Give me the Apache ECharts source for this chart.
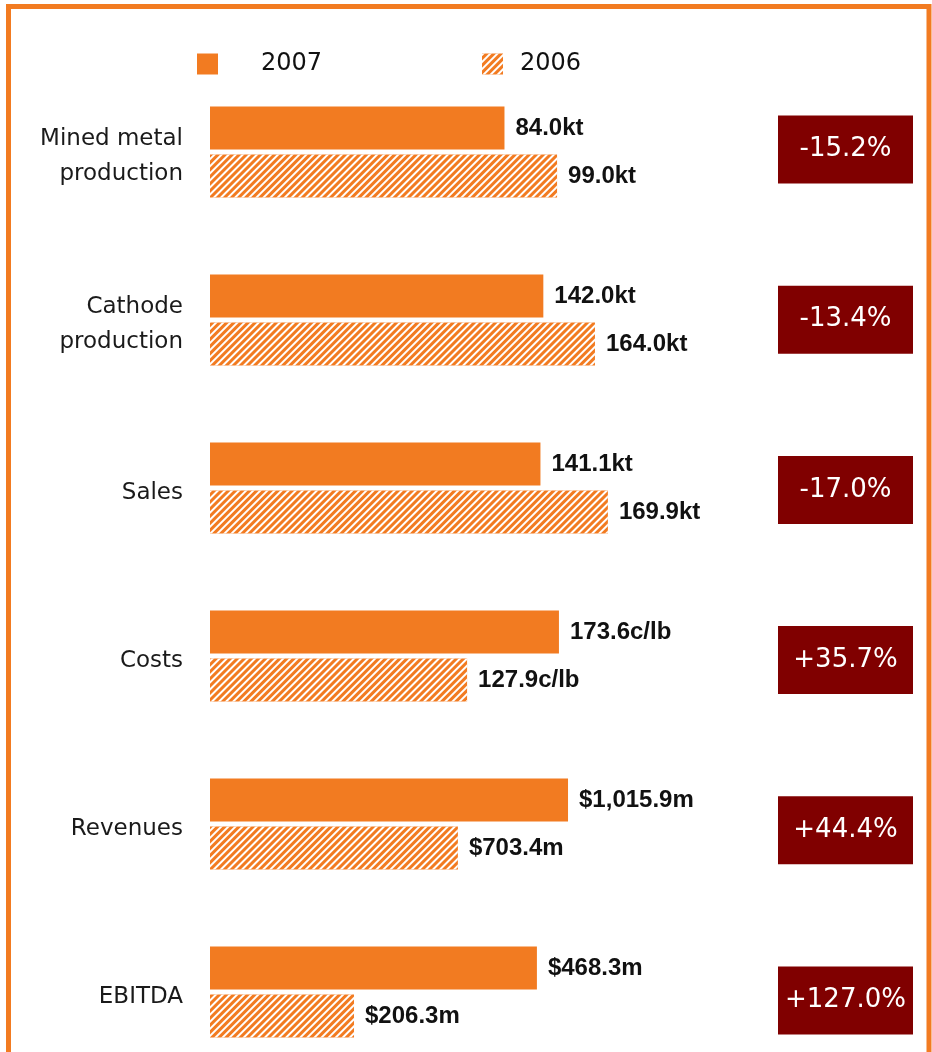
<!DOCTYPE html>
<html><head><meta charset="utf-8">
<script src="https://cdn.jsdelivr.net/npm/echarts@6/dist/echarts.min.js"></script>
<style>html,body{margin:0;padding:0;background:#fff}#c{width:932px;height:1052px}</style>
</head><body><div id="c"></div>
<script>
const categories = ['Mined metal\nproduction', 'Cathode\nproduction', 'Sales', 'Costs', 'Revenues', 'EBITDA'];
const values2007 = [84.0, 142.0, 141.1, 173.6, 1015.9, 468.3];
const values2006 = [99.0, 164.0, 169.9, 127.9, 703.4, 206.3];
const labels2007 = ['84.0kt', '142.0kt', '141.1kt', '173.6c/lb', '$1,015.9m', '$468.3m'];
const labels2006 = ['99.0kt', '164.0kt', '169.9kt', '127.9c/lb', '$703.4m', '$206.3m'];
const changes = ['-15.2%', '-13.4%', '-17.0%', '+35.7%', '+44.4%', '+127.0%'];
const axisMax = [114.1, 170.4, 170.8, 199, 1135, 573];

const ORANGE = '#F27B21';
const DARKRED = '#800000';
const chart = echarts.init(document.getElementById('c'), null, {renderer: 'canvas'});

const grids = [], xAxes = [], yAxes = [], series = [];
const n = categories.length;
// bar grids 0..n-1
for (let i = 0; i < n; i++) {
  grids.push({left: 210, width: 400, top: 104 + 168 * i, height: 96});
  xAxes.push({type: 'value', gridIndex: i, min: 0, max: axisMax[i], show: false});
}
// label grids n..2n-1 (slightly lower, carry the category names)
for (let i = 0; i < n; i++) {
  grids.push({left: 210, width: 400, top: 109 + 168 * i, height: 96});
  xAxes.push({type: 'value', gridIndex: n + i, min: 0, max: 1, show: false});
}
// yAxis 0..n-1 : hidden category axes for bars
for (let i = 0; i < n; i++) {
  yAxes.push({type: 'category', gridIndex: i, data: [categories[i]], inverse: true, show: false});
}
// yAxis n..2n-1 : category names
for (let i = 0; i < n; i++) {
  yAxes.push({
    type: 'category', gridIndex: n + i, data: [categories[i]], inverse: true,
    axisLine: {show: false}, axisTick: {show: false},
    axisLabel: {margin: 27, fontSize: 23, lineHeight: 35, color: '#1a1a1a', fontFamily: 'DejaVu Sans', align: 'right'}
  });
}
// yAxis 2n..3n-1 : change boxes
for (let i = 0; i < n; i++) {
  const d = -2.5 + 2.2 * i;
  yAxes.push({
    type: 'category', gridIndex: i, data: [changes[i]], inverse: true, position: 'right',
    axisLine: {show: false}, axisTick: {show: false},
    axisLabel: {
      margin: 168,
      padding: d > 0 ? [2 * d, 0, 0, 0] : [0, 0, -2 * d, 0],
      formatter: v => '{b|' + v + '}',
      rich: {b: {width: 135, height: 68, backgroundColor: DARKRED, color: '#ffffff', align: 'center',
                 fontSize: 26, fontFamily: 'DejaVu Sans'}}
    }
  });
}
const valueLabel = {show: true, position: 'right', distance: 11, fontSize: 24, fontWeight: 'bold',
  fontFamily: 'Liberation Sans', color: '#111'};
const hatch = {symbol: 'rect', symbolSize: 1, dashArrayX: [1, 0], dashArrayY: [2, 2.5],
  rotation: -Math.PI / 4, color: '#ffffff'};
for (let i = 0; i < n; i++) {
  series.push({
    type: 'bar', name: '2007', xAxisIndex: i, yAxisIndex: i, data: [values2007[i]],
    barWidth: 43, barGap: '12%', itemStyle: {color: ORANGE},
    label: Object.assign({}, valueLabel, {formatter: () => labels2007[i]})
  });
  series.push({
    type: 'bar', name: '2006', xAxisIndex: i, yAxisIndex: i, data: [values2006[i]],
    barWidth: 43, barGap: '12%', itemStyle: {color: ORANGE, decal: hatch},
    label: Object.assign({}, valueLabel, {formatter: () => labels2006[i]})
  });
}

chart.setOption({
  animation: false,
  backgroundColor: '#ffffff',
  grid: grids, xAxis: xAxes, yAxis: yAxes, series: series,
  legend: [
    {data: ['2007'], left: 192, top: 47, itemWidth: 21, itemHeight: 21, icon: 'rect', selectedMode: false,
     textStyle: {fontSize: 24, fontFamily: 'DejaVu Sans', color: '#111', padding: [0, 0, 0, 38]}},
    {data: ['2006'], left: 477, top: 47, itemWidth: 21, itemHeight: 21, icon: 'rect', selectedMode: false,
     textStyle: {fontSize: 24, fontFamily: 'DejaVu Sans', color: '#111', padding: [0, 0, 0, 12]}}
  ],
  graphic: [{type: 'rect', silent: true, z: -10,
    shape: {x: 8.5, y: 6.5, width: 920.5, height: 1200},
    style: {fill: 'none', stroke: ORANGE, lineWidth: 5}}]
});
</script></body></html>
